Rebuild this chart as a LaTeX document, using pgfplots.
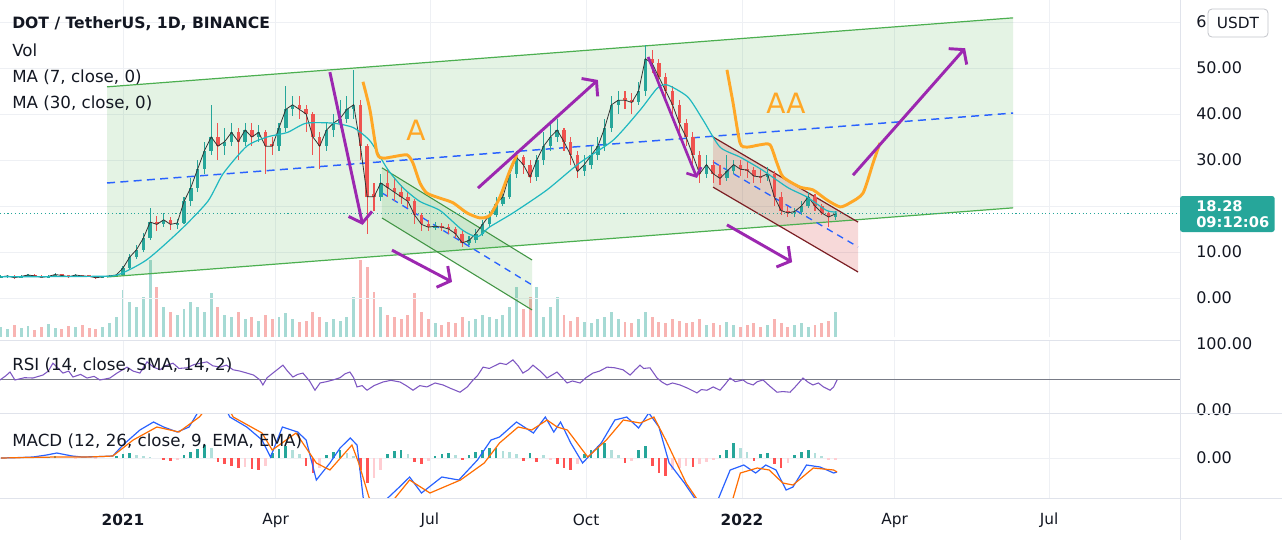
\documentclass[border=0pt]{standalone}
\usepackage{fontspec}
\setmainfont{DejaVu Sans}
\usepackage{pgfplots}
\pgfplotsset{compat=1.18}
\usepackage{pgfplotstable}
\usetikzlibrary{arrows.meta}
\definecolor{txtc}{HTML}{131722}
\definecolor{upcol}{HTML}{26A69A}
\definecolor{dncol}{HTML}{EF5350}
\definecolor{volup}{HTML}{A6DAD4}
\definecolor{voldn}{HTML}{F8B4B2}
\definecolor{gridc}{HTML}{EEF0F4}
\definecolor{sepc}{HTML}{E0E3EB}
\definecolor{chgreen}{HTML}{4CAF50}
\definecolor{chfill}{HTML}{4CAF50}
\definecolor{blued}{HTML}{2962FF}
\definecolor{maroon}{HTML}{7B1F24}
\definecolor{orangec}{HTML}{FFA726}
\definecolor{purplec}{HTML}{9C27B0}
\definecolor{ma30}{HTML}{1FB8C0}
\definecolor{ma7}{HTML}{333333}
\definecolor{rsic}{HTML}{7E57C2}
\definecolor{macdc}{HTML}{2962FF}
\definecolor{sigc}{HTML}{FF6D00}
\definecolor{hgs}{HTML}{26A69A}
\definecolor{hgl}{HTML}{B2DFDB}
\definecolor{hrs}{HTML}{FF5252}
\definecolor{hrl}{HTML}{FFCDD2}
\definecolor{graymid}{HTML}{787B86}

\pgfplotstableread{
d o h l c
-72 4.5 4.9 4.3 4.6
-68 4.6 5.0 4.4 4.8
-60 4.4 4.9 4.3 4.7
-56 4.7 5.3 4.6 5.0
-44 4.5 4.9 4.4 4.7
-40 4.7 5.4 4.6 5.1
-28 4.6 5.2 4.5 5.0
-12 4.4 4.8 4.3 4.6
-8 4.6 5.0 4.5 4.8
-4 4.8 5.3 4.7 5.0
0 5.0 7.0 4.9 6.5
4 6.5 9.6 6.3 8.9
8 8.9 11.5 8.5 10.5
12 10.5 14.2 10 13
16 13 19.5 12.5 16.5
24 16 18.5 15.5 17
32 16 17.2 15 16.3
36 16.3 22 16 21
40 21 26 20 24
44 24 30 23 28
48 28 34 27 32
52 32 42 31 35
60 33 37 31 34
64 34 38 33 36
72 34 38 33 36.5
80 35 37.5 34 36
92 33 38 32 37
96 37 46 36 41
100 41 44 39.5 42
120 33 38 32 36.5
124 36.5 40 35 38
128 38 43 37 39
132 39 44 38 41
136 41 49.5 39 42
152 22 27 21 25
184 15.4 16.5 14.8 15.6
204 12 13.5 11.5 12.5
208 12.5 15 12 14
212 14 17 13.5 16
216 16 19 15.5 18
220 18 22 17.5 20.5
224 20.5 24 20 22
228 22 28 21.5 27
232 27 32 26 30.6
244 26.3 31 25.5 30
248 30 36 29 33
252 33 38 32 35
256 35 39 34 36.5
272 27.5 31 26.5 29
276 29 33 28 31
280 31 35 30 33
284 33 39 32 37
288 37 44 36 42
292 42 45 40 43
304 42.5 47 42 45
308 45 55 44 52
344 27 31 26 29
356 26 31 25.5 27.5
360 27.5 30 27 29
380 26.3 28.5 25.5 27
396 18.5 19.5 17.5 18.8
400 18.8 21 18 20
404 20 23 19.5 22
420 17.6 19 17 18.28
}\upc

\pgfplotstableread{
d o h l c
-64 4.8 4.9 4.2 4.4
-52 5.0 5.2 4.6 4.8
-48 4.8 4.9 4.3 4.5
-36 5.1 5.3 4.7 4.9
-32 4.9 5.0 4.4 4.6
-24 5.0 5.1 4.6 4.8
-20 4.8 5.0 4.5 4.7
-16 4.7 4.8 4.2 4.4
20 16.5 17.8 14.5 16
28 17 17.5 14.8 16
56 35 38 30 33
68 36 37 30 34
76 36.5 38 33 35
84 36 36.5 27 33
88 33.5 35 31 33
104 42 44 39 41
108 41 42 36 40
112 40 40.5 31 35
116 35 36 28 33
140 42 43 30 33
144 33 33.5 14 22
148 22.5 25 19 22
156 25 28 22 24
160 24 26 21 23
164 23 24.5 20.5 22
168 22 23 19.5 21
172 21 21.5 16 18
176 18 18.5 14.5 16
180 16 17 14.5 15.4
188 15.6 16.2 14.6 15.4
192 15.4 16 14 15
196 15 15.5 13 14
200 14 14.5 11 12
236 30.6 31 27 29
240 29 30 25 26.3
260 36.5 37 32 34
264 34 35 29 31
268 31 32 26 27.5
296 43.5 45 41 43
300 43 44.5 40 42.5
312 52 54 49 51
316 51 52 46 48
320 48 49 43 45
324 45 46 40 42
328 42 43 36 38
332 38 39 33 35
336 35 36 29 31
340 31 32 25 27
348 29 30 25 27
352 27 29 24.5 26
364 29 30 26.5 28
368 28 29.5 26 27.8
372 27.8 28.5 25 26.5
376 26.5 28 25 26.3
384 27 27.5 20 22
388 22 23 18 19
392 19 20 17.5 18.5
408 22 22.5 19 20
412 20 20.5 18 18.5
416 18.5 19 15.5 17.6
}\dnc

\pgfplotsset{
  pane/.style={anchor=north west, scale only axis, width=885pt,
    xmin=-72.5, xmax=623.2,
    axis line style={draw=none}, major tick length=0pt,
    xtick={0,90,181,273,365,455,546}, xticklabels={},
    xmajorgrids, grid style={gridc, line width=0.6pt},
    yticklabel pos=right,
    yticklabel style={anchor=west, inner sep=0pt, xshift=12pt,
      font=\fontsize{12}{14}\selectfont, text=txtc}},
}

\begin{document}
\begin{tikzpicture}
\fill[white] (0pt,0pt) rectangle (961.5pt,-405pt);
\path[use as bounding box] (0pt,0pt) rectangle (961.5pt,-405pt);

% ---------- volume ----------
\begin{axis}[pane, at={(0pt,0pt)}, height=252.75pt, ymin=0, ymax=337,
  ytick=\empty, xmajorgrids=false]
\addplot[ycomb, volup, line width=2.2pt] coordinates {
(-72,10) (-68,8) (-60,9) (-56,11) (-44,13) (-40,9) (-28,10) (-12,10) (-8,14) (-4,20) (0,47) (4,35) (8,30) (12,40) (16,77) (24,30) (32,22) (36,28) (40,35) (44,30) (48,25) (52,44) (60,22) (64,20) (72,18) (80,16) (92,20) (96,24) (100,18) (120,15) (124,18) (128,16) (132,20) (136,40) (152,30) (184,14) (204,16) (208,18) (212,22) (216,20) (220,18) (224,22) (228,30) (232,50) (244,50) (248,20) (252,30) (256,40) (272,15) (276,14) (280,18) (284,20) (288,25) (292,18) (304,18) (308,25) (344,12) (356,15) (360,12) (380,12) (396,12) (400,14) (404,10) (420,25)};
\addplot[ycomb, voldn, line width=2.2pt] coordinates {
(-64,12) (-52,7) (-48,10) (-36,8) (-32,11) (-24,12) (-20,9) (-16,8) (20,50) (28,25) (56,30) (68,25) (76,20) (84,22) (88,18) (104,15) (108,16) (112,25) (116,20) (140,77) (144,70) (148,45) (156,22) (160,20) (164,18) (168,22) (172,44) (176,25) (180,18) (188,12) (192,15) (196,14) (200,20) (236,28) (240,40) (260,22) (264,16) (268,20) (296,15) (300,14) (312,20) (316,15) (320,14) (324,18) (328,16) (332,14) (336,15) (340,18) (348,14) (352,12) (364,10) (368,12) (372,14) (376,10) (384,18) (388,14) (392,10) (408,12) (412,14) (416,16)};
\end{axis}

% ---------- price ----------
\begin{axis}[pane, at={(0pt,0pt)}, height=252.75pt, ymin=-8.48, ymax=64.78,
  ytick={0,10,20,30,40,50,60},
  yticklabels={0.00,10.00,20.00,30.00,40.00,50.00,6}, ymajorgrids]
% big channel
\addplot[fill=chfill, fill opacity=0.15, draw=none] coordinates {(-9.4,45.9) (524.8,60.9) (524.8,19.6) (-9.4,4.57)} -- cycle;
% inner channel 1
\addplot[fill=chfill, fill opacity=0.15, draw=none] coordinates {(152.7,28.3) (241.2,8.26) (241.2,-2.6) (152.7,17.4)} -- cycle;
% inner channel 2
\addplot[fill=red!80!black, fill opacity=0.15, draw=none] coordinates {(347.9,35) (433.4,16.5) (433.4,5.65) (347.9,24.1)} -- cycle;
% channel lines
\addplot[chgreen, line width=0.9pt] coordinates {(-9.4,45.9) (524.8,60.9)};
\addplot[chgreen, line width=0.9pt] coordinates {(-9.4,4.57) (524.8,19.6)};
\addplot[blued, line width=1.1pt, dash pattern=on 6pt off 4pt] coordinates {(-9.4,25) (524.8,40.2)};
\addplot[chgreen!85!black, line width=0.8pt] coordinates {(152.7,28.3) (241.2,8.26)};
\addplot[chgreen!85!black, line width=0.8pt] coordinates {(152.7,17.4) (241.2,-2.6)};
\addplot[blued, line width=1pt, dash pattern=on 5pt off 4pt] coordinates {(152.7,22.85) (241.2,2.83)};
\addplot[maroon, line width=0.9pt] coordinates {(347.9,35) (433.4,16.5)};
\addplot[maroon, line width=0.9pt] coordinates {(347.9,24.1) (433.4,5.65)};
\addplot[blued, line width=1pt, dash pattern=on 5pt off 4pt] coordinates {(347.9,29.6) (433.4,11.1)};
% last price line
\addplot[upcol, dotted, line width=0.8pt] coordinates {(-72.5,18.28) (623.2,18.28)};
% candles
\addplot[draw=none, mark=none, error bars/.cd, y dir=both, y explicit, error mark=none,
  error bar style={draw=upcol, line width=0.8pt}]
  table[x=d, y expr={(\thisrow{h}+\thisrow{l})/2}, y error expr={(\thisrow{h}-\thisrow{l})/2}] {\upc};
\addplot[draw=none, mark=none, error bars/.cd, y dir=both, y explicit, error mark=none,
  error bar style={draw=upcol, line width=2.6pt}]
  table[x=d, y expr={(\thisrow{o}+\thisrow{c})/2}, y error expr={max(abs(\thisrow{c}-\thisrow{o})/2,0.15)}] {\upc};
\addplot[draw=none, mark=none, error bars/.cd, y dir=both, y explicit, error mark=none,
  error bar style={draw=dncol, line width=0.8pt}]
  table[x=d, y expr={(\thisrow{h}+\thisrow{l})/2}, y error expr={(\thisrow{h}-\thisrow{l})/2}] {\dnc};
\addplot[draw=none, mark=none, error bars/.cd, y dir=both, y explicit, error mark=none,
  error bar style={draw=dncol, line width=2.6pt}]
  table[x=d, y expr={(\thisrow{o}+\thisrow{c})/2}, y error expr={max(abs(\thisrow{c}-\thisrow{o})/2,0.15)}] {\dnc};
% MA 7
\addplot[ma7, line width=0.6pt] coordinates {
(-72,4.6)(-68,4.8)(-64,4.4)(-60,4.7)(-56,5.0)(-52,4.8)(-48,4.5)(-44,4.7)(-40,5.1)(-36,4.9)(-32,4.6)(-28,5.0)(-24,4.8)(-20,4.7)(-16,4.4)(-12,4.6)(-8,4.8)(-4,5.0)(0,6.5)(4,8.9)(8,10.5)(12,13)(16,16.5)(20,16)(24,17)(28,16)(32,16.3)(36,21)(40,24)(44,28)(48,32)(52,35)(56,33)(60,34)(64,36)(68,34)(72,36.5)(76,35)(80,36)(84,33)(88,33)(92,37)(96,41)(100,42)(104,41)(108,40)(112,35)(116,33)(120,36.5)(124,38)(128,39)(132,41)(136,42)(140,33)(144,22)(148,22)(152,25)(156,24)(160,23)(164,22)(168,21)(172,18)(176,16)(180,15.4)(184,15.6)(188,15.4)(192,15)(196,14)(200,12)(204,12.5)(208,14)(212,16)(216,18)(220,20.5)(224,22)(228,27)(232,30.6)(236,29)(240,26.3)(244,30)(248,33)(252,35)(256,36.5)(260,34)(264,31)(268,27.5)(272,29)(276,31)(280,33)(284,37)(288,42)(292,43)(296,43)(300,42.5)(304,45)(308,52)(312,51)(316,48)(320,45)(324,42)(328,38)(332,35)(336,31)(340,27)(344,29)(348,27)(352,26)(356,27.5)(360,29)(364,28)(368,27.8)(372,26.5)(376,26.3)(380,27)(384,22)(388,19)(392,18.5)(396,18.8)(400,20)(404,22)(408,20)(412,18.5)(416,17.6)(420,18.28)};
% MA 30
\addplot[ma30, line width=0.9pt, smooth, tension=0.4] coordinates {
(-72,4.6)(-20,4.7)(-3.5,5)(14,8.3)(34,14.8)(50,21)(59,27)(73,33)(85,35)(97,36)(108,38)(124,38)(136,37)(146,34)(156,28)(165,24)(175,21)(187,19)(200,14.8)(209,13.3)(216,15.4)(230,18.5)(250,23.5)(269,29.3)(289,34.3)(305,40.9)(315,45.6)(321,46.3)(333,43.7)(342,38.7)(352,32.8)(364,30.6)(377,27.8)(392,24)(403,22)(415,19)(421,18.7)};
% orange curves
\addplot[orangec, line width=2.2pt, smooth, tension=0.4] coordinates {
(141.5,47) (145.6,40.9) (149.8,31.5) (153.3,30.4) (159.2,30.7) (167.5,31.1) (171,29.3) (175.1,25) (179.2,22.8) (186.9,21.7) (194.6,20.7) (202.8,18.5) (210.5,17.4) (216.4,18) (222.3,22) (228.2,27.8) (232.3,31.1)};
\addplot[orangec, line width=2.2pt, smooth, tension=0.4] coordinates {
(356.1,49.6) (359.7,42.4) (363.8,33.7) (367.9,32.8) (375.6,33.3) (381.5,33.3) (385.6,29.3) (389.2,26.3) (399.2,24.1) (406.8,23.5) (415.1,21.3) (422.8,19.8) (428.7,20.7) (436.3,22.8) (442.2,29.3) (446.3,33.7)};
% purple arrows
\addplot[purplec, line width=2.2pt, -{Straight Barb[length=7pt,width=18pt]}] coordinates {(122,49.1) (141.3,15.9)};
\addplot[purplec, line width=2.2pt, -{Straight Barb[length=7pt,width=18pt]}] coordinates {(158.6,10.4) (194,3.5)};
\addplot[purplec, line width=2.2pt, -{Straight Barb[length=7pt,width=18pt]}] coordinates {(209.3,23.9) (280,47.4)};
\addplot[purplec, line width=2pt, -{Straight Barb[length=5pt,width=12pt]}] coordinates {(309.6,52.4) (338.4,26.1)};
\addplot[purplec, line width=2.2pt, -{Straight Barb[length=7pt,width=18pt]}] coordinates {(356.1,15.9) (394.5,7.8)};
\addplot[purplec, line width=2.2pt, -{Straight Barb[length=7pt,width=18pt]}] coordinates {(430.4,26.7) (496.5,54.3)};
\node[text=orangec, font=\fontsize{21}{24}\selectfont] at (axis cs:172.8,36.5) {A};
\node[text=orangec, font=\fontsize{21}{24}\selectfont] at (axis cs:390.9,42.4) {AA};
\end{axis}

% ---------- RSI ----------
\begin{axis}[pane, at={(0pt,-255pt)}, height=54.75pt, ymin=-1.5, ymax=109.1,
  ytick={0,100}, yticklabels={0.00,100.00},
  yticklabel style={yshift=1.5pt}]
\addplot[graymid, line width=0.7pt] coordinates {(-72.5,50) (623.2,50)};
\addplot[rsic, line width=0.8pt] coordinates {
(-72.5,48.5) (-69,55) (-66.6,60.6) (-63.7,48.5) (-58,52) (-53.1,51.5) (-47.2,56) (-44,62) (-41.3,74) (-35.4,59) (-32,62) (-29.5,53) (-25,57) (-21.2,51.5) (-17,54) (-13.6,48.5) (-7.7,51.5) (-3.5,59) (2.4,68) (6,62) (10,59) (14.2,76) (18,68) (21.8,64) (25,70) (29.5,74) (33,66) (37.7,67) (42,72) (49.5,76) (53,70) (57.2,68) (61,71) (64.9,64) (69,62) (73.1,59) (77,56) (80.8,48.5) (82.5,41) (85,52) (88.4,59) (94.3,71) (97,62) (100.2,53) (103,57) (106.1,59) (110,47) (113.2,33) (116.2,44) (120,46) (123.8,48.5) (128,52) (131,58) (133.8,60.6) (136,52) (138,38) (141,40) (143.9,33) (148,40) (153.3,45.5) (158,48) (163.3,45.5) (167,40) (171,33) (175,40) (179.2,38) (184,44) (188.7,41) (193,36) (198.7,30) (203,38) (206.4,48.5) (209,55) (212.3,68) (216,66) (222.3,74) (226,72) (229.9,79) (233,70) (235.8,59) (239,64) (241.7,71) (246,62) (250,51.5) (255.9,60.6) (259,52) (261.8,44) (265,47) (269.5,44) (273,52) (277.1,59) (281,62) (285.4,68) (290,67) (294.8,64) (299,56) (302,64) (304.8,71) (307,66) (310.7,67) (314.9,51.5) (318,45) (320.8,41) (324,44) (328.4,41) (333,36) (338.4,29) (341,34) (344.3,33) (348,38) (352,33) (355,42) (357.9,51.5) (361,46) (365.6,48.5) (368,44) (371.5,41) (374,46) (377.4,48.5) (381,40) (385.6,30) (389,31) (393.3,30) (397,40) (400.9,51.5) (404,45) (406.8,41) (410,44) (413,38) (416.9,33) (419,38) (421,48.5)};
\end{axis}

% ---------- MACD ----------
\begin{axis}[pane, at={(0pt,-309.75pt)}, height=63.75pt, ymin=-40, ymax=45,
  ytick={0}, yticklabels={0.00}, ymajorgrids,
  xticklabels={\textbf{2021},Apr,Jul,Oct,\textbf{2022},Apr,Jul},
  xticklabel style={anchor=center, yshift=-16.5pt, font=\fontsize{11.5}{13}\selectfont, text=txtc}]
\addplot[ycomb, hgs, line width=2pt] coordinates {(-60,1)(-44,1.5)(-40,2)(-4,2)(0,4)(4,5)(36,3)(40,6)(44,9)(48,13)(88,5)(92,9)(96,12)(120,3)(124,6)(128,8)(156,4)(160,7)(164,8)(184,2)(188,4)(192,5)(204,3)(208,6)(212,8)(216,10)(220,10)(240,5)(272,4)(276,8)(280,12)(284,15)(304,8)(308,12)(352,3)(356,8)(360,15)(376,4)(380,5)(396,3)(400,6)(404,8)};
\addplot[ycomb, hgl, line width=2pt] coordinates {(8,3)(12,2)(16,1)(52,10)(100,8)(104,4)(132,5)(136,2)(168,4)(196,3)(224,7)(228,6)(232,4)(248,3)(288,8)(292,3)(364,10)(368,6)(408,5)(412,2)};
\addplot[ycomb, hrs, line width=2pt] coordinates {(24,-2)(28,-3)(56,-4)(60,-6)(64,-8)(68,-10)(76,-11)(80,-12)(108,-8)(112,-15)(140,-12)(144,-25)(172,-4)(176,-6)(200,-2)(236,-3)(244,-4)(256,-6)(260,-10)(264,-12)(296,-5)(312,-8)(316,-15)(320,-18)(336,-9)(372,-3)(384,-6)(388,-10)};
\addplot[ycomb, hrl, line width=2pt] coordinates {(-28,-1)(-16,-1)(32,-2)(72,-9)(84,-8)(116,-10)(148,-20)(152,-12)(180,-3)(252,-2)(268,-6)(300,-3)(324,-12)(328,-10)(332,-8)(340,-6)(344,-4)(348,-2)(392,-5)(416,-2)(420,-2)};
\addplot[macdc, line width=0.9pt] coordinates {
(-72,0) (-60,0.5) (-53,1) (-45,3) (-39,5) (-30,2) (-24,1) (-12,1.5) (-6,2) (0,13) (10,28) (18,36) (24,31) (32,26) (39,31) (45,48) (50,60) (58,58) (63,41) (73,31) (82,18) (87,1) (94,31) (103,26) (108,18) (114,-22) (122,-5) (128,10) (134,20) (138,13) (142,-45) (148,-60) (153,-45) (163,-29) (169,-19) (176,-35) (188,-19) (198,-22) (209,-2) (217,18) (222,21) (232,36) (242,25) (249,41) (254,26) (258,36) (264,15) (271,-5) (282,15) (290,38) (297,41) (304,30) (310,45) (316,31) (322,-5) (331,-25) (339,-45) (350,-45) (358,-12) (366,-7) (373,-15) (379,-7) (385,-12) (391,-32) (395,-29) (403,-7) (411,-9) (419,-15) (421,-14)};
\addplot[sigc, line width=0.9pt] coordinates {
(-72,0) (-40,1) (-20,1) (-6,2) (6,18) (20,31) (33,26) (45,41) (52,55) (62,50) (65,41) (82,25) (88,8) (102,25) (114,-5) (122,-12) (135,13) (139,-5) (145,-39) (150,-55) (158,-45) (169,-22) (181,-35) (199,-22) (213,-5) (222,15) (233,31) (241,28) (250,38) (256,31) (262,28) (274,1) (285,18) (295,38) (305,35) (313,41) (320,18) (332,-25) (342,-50) (358,-50) (364,-15) (374,-10) (381,-12) (389,-25) (395,-27) (407,-10) (419,-12) (421,-14)};
\end{axis}

% ---------- separators ----------
\draw[sepc, line width=0.6pt] (0pt,-255pt) -- (885pt,-255pt);
\draw[sepc, line width=0.75pt] (0pt,-309.75pt) -- (961.5pt,-309.75pt);
\draw[sepc, line width=0.75pt] (0pt,-373.5pt) -- (961.5pt,-373.5pt);
\draw[sepc, line width=0.75pt] (885pt,0pt) -- (885pt,-405pt);

% ---------- legend texts ----------
\node[anchor=west, inner sep=0pt, text=txtc, font=\fontsize{11.7}{14}\selectfont\bfseries] at (9pt,-18pt) {DOT / TetherUS, 1D, BINANCE};
\node[anchor=west, inner sep=0pt, text=txtc, font=\fontsize{12.5}{15}\selectfont] at (9pt,-37.5pt) {Vol};
\node[anchor=west, inner sep=0pt, text=txtc, font=\fontsize{12.5}{15}\selectfont] at (9pt,-57.75pt) {MA (7, close, 0)};
\node[anchor=west, inner sep=0pt, text=txtc, font=\fontsize{12.5}{15}\selectfont] at (9pt,-77.25pt) {MA (30, close, 0)};
\node[anchor=west, inner sep=0pt, text=txtc, font=\fontsize{12.5}{15}\selectfont] at (9pt,-273.75pt) {RSI (14, close, SMA, 14, 2)};
\node[anchor=west, inner sep=0pt, text=txtc, font=\fontsize{12.5}{15}\selectfont] at (9pt,-330.75pt) {MACD (12, 26, close, 9, EMA, EMA)};

% ---------- price tags ----------
\draw[sepc!70!gray, fill=white, rounded corners=3pt, line width=0.6pt] (906pt,-6.75pt) rectangle (951pt,-27.75pt);
\node[text=txtc, font=\fontsize{11.5}{13}\selectfont] at (928.5pt,-17.25pt) {USDT};
\fill[upcol, rounded corners=2pt] (885pt,-147pt) rectangle (956pt,-174pt);
\node[anchor=west, inner sep=0pt, text=white, font=\fontsize{11}{12}\selectfont\bfseries] at (897pt,-154.5pt) {18.28};
\node[anchor=west, inner sep=0pt, text=white, font=\fontsize{11}{12}\selectfont\bfseries] at (897pt,-166.5pt) {09:12:06};
\end{tikzpicture}
\end{document}
